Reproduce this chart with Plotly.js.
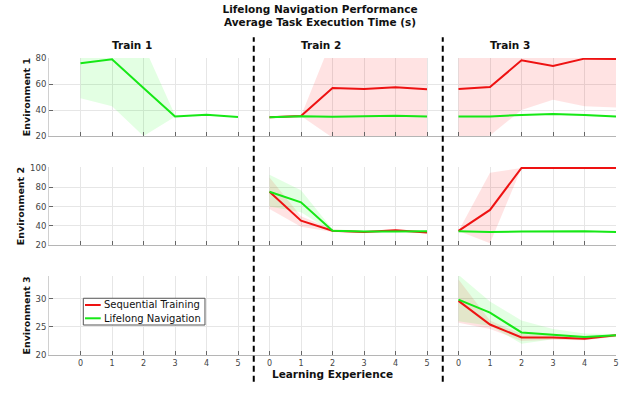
<!DOCTYPE html>
<html>
<head>
<meta charset="utf-8">
<script src="https://cdn.plot.ly/plotly-3.0.1.min.js"></script>
<style>
  body { margin: 0; background: #fff; }
  #plot { width: 640px; height: 397px; }
</style>
</head>
<body>
<div id="plot"></div>
<script>
// learning experience steps inside each training stage
let steps = [0, 1, 2, 3, 4, 5];
let trainNames = ["Train 1", "Train 2", "Train 3"];
let envNames = ["Environment 1", "Environment 2", "Environment 3"];
let seriesNames = ["Sequential Training", "Lifelong Navigation"];

// Environment 1 (null = no curve in that stage)
let env1SeqMean  = [null, [34.5, 35.5, 57, 56.2, 57.5, 56], [56.2, 57.7, 78.2, 73.8, 79.5, 79.2]];
let env1SeqLow   = [null, [34.5, 35.5, 18.8, 10, 10, 10], [10, 20.5, 40, 48, 43, 42]];
let env1SeqHigh  = [null, [34.5, 35.5, 95.6, 100, 100, 100], [100, 100, 100, 100, 100, 100]];
let env1LifeMean = [[76, 79, 57, 35, 36.4, 34.7], [34.5, 35.2, 34.8, 35.2, 35.6, 35.0], [35, 35, 36.3, 37, 36.2, 35]];
let env1LifeLow  = [[49, 43, 20, 34.9, 36, 34.3], [34, 34.7, 34.3, 34.7, 35.1, 34.5], [34.5, 34.5, 35.8, 36.5, 35.7, 34.5]];
let env1LifeHigh = [[84, 100, 90, 36.2, 36.8, 35.1], [35, 35.7, 35.3, 35.7, 36.1, 35.5], [35.5, 35.5, 36.8, 37.5, 36.7, 35.5]];

// Environment 2
let env2SeqMean  = [null, [75.4, 45.3, 35, 33.5, 35.3, 33.2], [34.7, 56.5, 100, 100, 100, 100]];
let env2SeqLow   = [null, [57.5, 39, 33.5, 32.5, 34, 32], [34.7, 22, 100, 100, 100, 100]];
let env2SeqHigh  = [null, [90, 50, 36.5, 34.5, 36.5, 34.5], [34.7, 95, 100, 100, 100, 100]];
let env2LifeMean = [null, [75.4, 64.4, 35, 34, 34, 34.5], [34.5, 33.5, 34, 34, 34.5, 33.5]];
let env2LifeLow  = [null, [60, 54, 33.5, 33, 33, 33.5], [34, 33, 33.5, 33.5, 34, 33]];
let env2LifeHigh = [null, [93, 77, 36.5, 35, 35, 35.5], [35, 34, 34.5, 34.5, 35, 34]];

// Environment 3
let env3SeqMean  = [null, null, [29.6, 25.4, 23.1, 23.1, 22.9, 23.5]];
let env3SeqLow   = [null, null, [25.7, 24.6, 22.5, 22.7, 22.6, 23.3]];
let env3SeqHigh  = [null, null, [33.4, 26.1, 23.7, 23.4, 23.2, 23.7]];
let env3LifeMean = [null, null, [29.8, 27.5, 24, 23.6, 23.2, 23.5]];
let env3LifeLow  = [null, null, [26, 25.2, 22, 22.8, 22.7, 23.2]];
let env3LifeHigh = [null, null, [34.2, 29.5, 26.1, 24.6, 23.8, 23.7]];

let envData = [
  {seq: [env1SeqMean, env1SeqLow, env1SeqHigh], life: [env1LifeMean, env1LifeLow, env1LifeHigh]},
  {seq: [env2SeqMean, env2SeqLow, env2SeqHigh], life: [env2LifeMean, env2LifeLow, env2LifeHigh]},
  {seq: [env3SeqMean, env3SeqLow, env3SeqHigh], life: [env3LifeMean, env3LifeLow, env3LifeHigh]}
];

let red = "rgb(238,18,18)";
let green = "rgb(22,232,22)";
let redFill = "rgba(255,0,0,0.11)";
let greenFill = "rgba(0,255,0,0.11)";

let traces = [];
let bandTraces = [];

envData.forEach(function (env, e) {
  let xa = e === 0 ? "x" : "x" + (e + 1);
  let ya = e === 0 ? "y" : "y" + (e + 1);
  trainNames.forEach(function (name, t) {
    let xs = steps.map(s => t * steps.length + s);
    let groups = [[env.seq, redFill, red, seriesNames[0]], [env.life, greenFill, green, seriesNames[1]]];
    // shaded spread first, mean lines on top
    groups.forEach(function (g) {
      let mean = g[0][0][t];
      if (!mean) return;
      let lo = g[0][1][t], hi = g[0][2][t];
      bandTraces.push({
        x: xs.concat(xs.slice().reverse()),
        y: hi.concat(lo.slice().reverse()),
        xaxis: xa, yaxis: ya,
        type: "scatter", mode: "lines",
        fill: "toself", fillcolor: g[1],
        line: {width: 0},
        hoverinfo: "skip", showlegend: false
      });
    });
    groups.forEach(function (g) {
      let mean = g[0][0][t];
      if (!mean) return;
      traces.push({
        x: xs, y: mean, xaxis: xa, yaxis: ya,
        type: "scatter", mode: "lines", name: g[3],
        showlegend: false,
        line: {color: g[2], width: 2}
      });
    });
  });
});

let allTicks = [];
let allLabels = [];
trainNames.forEach(function (n, t) {
  steps.forEach(function (s) {
    allTicks.push(t * steps.length + s);
    allLabels.push(String(s));
  });
});

let gridCol = "#e6e6e6";
function xAxis(anchor, showLabels) {
  return {
    anchor: anchor, matches: anchor === "y" ? undefined : "x",
    range: [-1, 17], domain: [0, 1],
    tickvals: allTicks, ticktext: allLabels,
    showticklabels: showLabels,
    ticks: "inside", ticklen: 4, tickcolor: "#666",
    showgrid: true, gridcolor: gridCol, zeroline: false,
    showline: true, linecolor: "#b5b5b5", linewidth: 1,
    tickfont: {size: 8, color: "#444"}
  };
}
function yAxis(domain, range, vals, title) {
  return {
    domain: domain, range: range, tickvals: vals,
    ticks: "inside", ticklen: 4, tickcolor: "#666",
    showgrid: true, gridcolor: gridCol, zeroline: false,
    showline: true, linecolor: "#d0d0d0",
    tickfont: {size: 8.5, color: "#444"},
    title: {text: title, font: {size: 9.5, weight: "bold", color: "#111"}, standoff: 3}
  };
}

// small boxed legend drawn in the lower-left panel
let legendBox = {x0: 0.0605, x1: 0.2751, y0: 0.101, y1: 0.191};
let legendRows = [0.1684, 0.1236];
let legendShapes = [{
  type: "rect", xref: "paper", yref: "paper",
  x0: legendBox.x0, x1: legendBox.x1, y0: legendBox.y0, y1: legendBox.y1,
  line: {color: "#555", width: 1}, fillcolor: "#fff", layer: "above"
}].concat(seriesNames.map((n, i) => ({
  type: "line", xref: "paper", yref: "paper",
  x0: 0.0635, x1: 0.0912, y0: legendRows[i], y1: legendRows[i],
  line: {color: i === 0 ? red : green, width: 2}, layer: "above"
})));
let legendTexts = seriesNames.map((n, i) => ({
  text: n, xref: "paper", yref: "paper", x: 0.093, y: legendRows[i],
  xanchor: "left", yanchor: "middle", showarrow: false,
  font: {size: 10, color: "#111"}
}));

let layout = {
  width: 640, height: 397,
  margin: {l: 49, r: 24, t: 58, b: 42},
  paper_bgcolor: "#fff", plot_bgcolor: "#fff",
  font: {family: "DejaVu Sans", color: "#111"},
  title: {
    text: "Lifelong Navigation Performance<br>Average Task Execution Time (s)",
    font: {size: 10.5, weight: "bold"},
    x: 0.5, xref: "container", y: 0.968, yref: "container", yanchor: "top"
  },
  xaxis: xAxis("y", false),
  xaxis2: xAxis("y2", false),
  xaxis3: Object.assign(xAxis("y3", true), {
    title: {text: "Learning Experience", font: {size: 10.5, weight: "bold"}, standoff: 2}
  }),
  yaxis: yAxis([0.737, 1], [20, 80], [20, 40, 60, 80], envNames[0]),
  yaxis2: yAxis([0.370, 0.633], [20, 101], [20, 40, 60, 80, 100], envNames[1]),
  yaxis3: yAxis([0, 0.266], [20, 34], [20, 25, 30], envNames[2]),
  showlegend: false,
  shapes: [5.5, 11.5].map(b => ({
    type: "line", xref: "x", yref: "paper",
    x0: b, x1: b, y0: -0.09, y1: 1.07,
    line: {color: "#000", width: 2, dash: "6px,4px"}
  })).concat(legendShapes),
  annotations: trainNames.map((n, t) => ({
    text: n, xref: "x", yref: "paper",
    x: t * steps.length + 1.62, y: 1.044, yanchor: "middle",
    showarrow: false, font: {size: 10.5, weight: "bold"}
  })).concat(legendTexts)
};

Plotly.newPlot("plot", bandTraces.concat(traces), layout, {displayModeBar: false});
</script>
</body>
</html>
